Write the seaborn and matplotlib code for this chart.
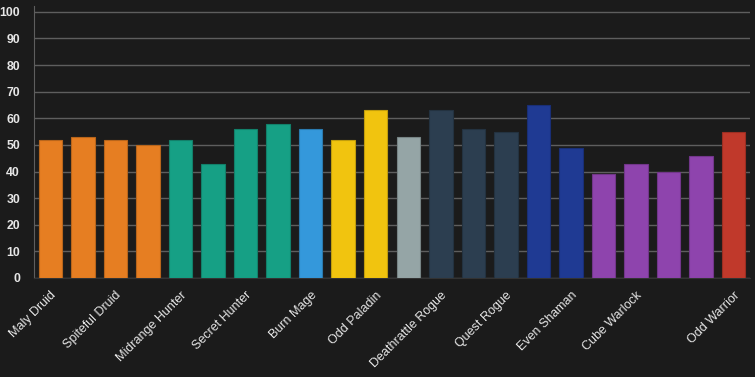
import matplotlib
matplotlib.use("Agg")
import matplotlib.pyplot as plt
import seaborn as sns
import pandas as pd

# deck names (only every other one is printed on the axis, plus the last)
decks = ['Maly Druid', 'Big Druid', 'Spiteful Druid', 'Taunt Druid',
         'Midrange Hunter', 'Recruit Hunter', 'Secret Hunter', 'Spell Hunter',
         'Burn Mage', 'Even Paladin', 'Odd Paladin', 'Control Priest',
         'Deathrattle Rogue', 'Odd Rogue', 'Quest Rogue',
         'Shudderwock Shaman', 'Even Shaman',
         'Control Warlock', 'Cube Warlock', 'Even Warlock', 'Zoo Warlock',
         'Odd Warrior']
winrates = [52, 53, 52, 50,
            52, 43, 56, 58,
            56, 52, 63, 53,
            63, 56, 55,
            65, 49,
            39, 43, 40, 46,
            55]
classes = ['Druid'] * 4 + ['Hunter'] * 4 + ['Mage'] + ['Paladin'] * 2 + ['Priest'] \
    + ['Rogue'] * 3 + ['Shaman'] * 2 + ['Warlock'] * 4 + ['Warrior']
class_colors = {'Druid': '#e67e22', 'Hunter': '#16a085', 'Mage': '#3498db',
                'Paladin': '#f1c40f', 'Priest': '#95a5a6', 'Rogue': '#2c3e50',
                'Shaman': '#1f3a93', 'Warlock': '#8e44ad', 'Warrior': '#c0392b'}

df = pd.DataFrame({'deck': decks, 'winrate': winrates, 'cls': classes})

bg = '#1b1b1b'
fg = '#e6e6e6'

sns.set_style('dark')
plt.rcParams['font.family'] = ['Liberation Sans', 'DejaVu Sans']

fig = plt.figure(figsize=(7.55, 3.77), dpi=100, facecolor=bg)
ax = fig.add_axes([34 / 755, 1 - 278 / 377, 716 / 755, 272 / 377])
ax.set_facecolor(bg)

sns.barplot(data=df, x='deck', y='winrate', hue='deck',
            palette=[class_colors[c] for c in classes], legend=False,
            width=0.72, saturation=1, ax=ax, zorder=3)
for p in ax.patches:
    r, g, b, a = p.get_facecolor()
    p.set_edgecolor((r * 0.8, g * 0.8, b * 0.8, 1))
    p.set_linewidth(0.8)

ax.set_ylim(0, 102.2)
ax.set_xlim(-0.5, len(decks) - 0.5)
ax.set_yticks(range(0, 101, 10))
ax.yaxis.grid(True, color='#5e5e5e', linewidth=1, zorder=0)
ax.xaxis.grid(False)
ax.tick_params(axis='y', colors='#5e5e5e', length=9, width=1, labelcolor=fg,
               labelsize=8.8, pad=1)
for t in ax.get_yticklabels():
    t.set_fontweight('bold')

shown = [i for i in range(len(decks)) if i % 2 == 0 and i < len(decks) - 2] + [len(decks) - 1]
ax.set_xticks(range(len(decks)))
ax.set_xticklabels([d if i in shown else '' for i, d in enumerate(decks)],
                   rotation=45, ha='right', rotation_mode='anchor',
                   color=fg, fontsize=9)
ax.tick_params(axis='x', length=0, pad=8)

ax.set_xlabel('')
ax.set_ylabel('')
for s in ['top', 'right']:
    ax.spines[s].set_visible(False)
ax.spines['left'].set_color('#5e5e5e')
ax.spines['bottom'].set_color('#333333')

fig.savefig('out.png', dpi=100, facecolor=bg)
